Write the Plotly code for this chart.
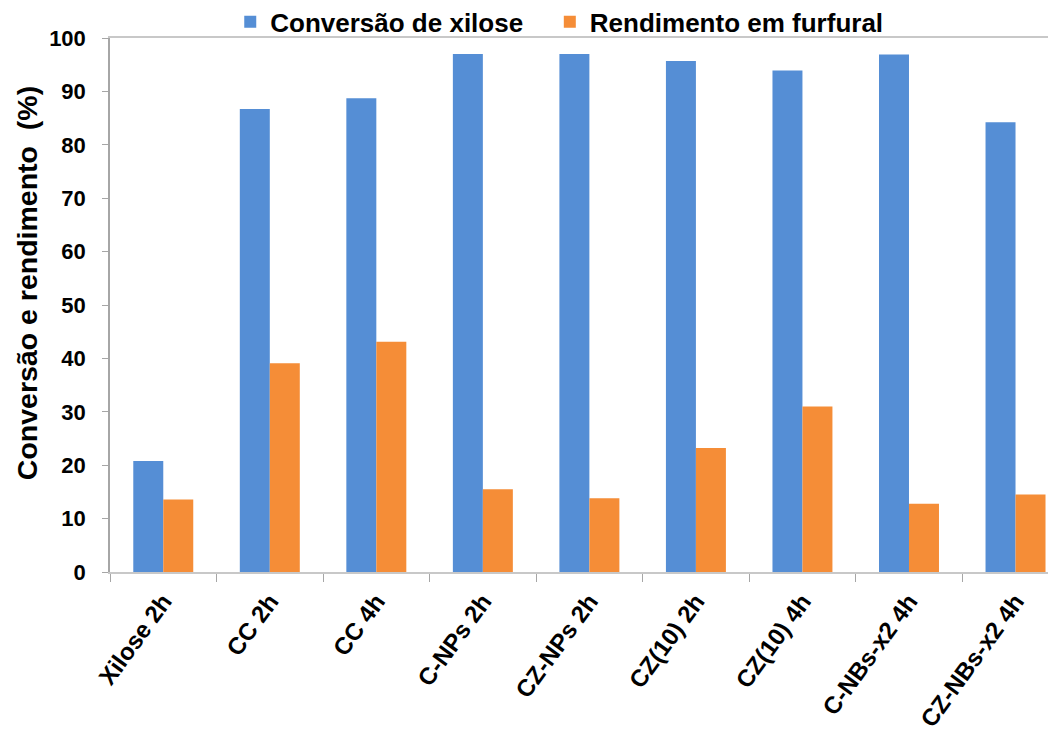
import plotly.graph_objects as go

categories = ["Xilose 2h", "CC 2h", "CC 4h", "C-NPs 2h", "CZ-NPs 2h",
              "CZ(10) 2h", "CZ(10) 4h", "C-NBs-x2 4h", "CZ-NBs-x2 4h"]
conversao = [20.8, 86.7, 88.7, 97.0, 97.0, 95.7, 93.9, 96.9, 84.2]
rendimento = [13.6, 39.1, 43.1, 15.5, 13.8, 23.2, 31.0, 12.8, 14.5]

series_names = ["Conversão de xilose", "Rendimento em furfural"]
y_ticks = [0, 10, 20, 30, 40, 50, 60, 70, 80, 90, 100]
y_title = "Conversão e rendimento  (%)"

blue = "#558ed5"
orange = "#f58d37"
font_family = "Liberation Sans, Arial, sans-serif"

fig = go.Figure()
fig.add_trace(go.Bar(x=categories, y=conversao,
                     name=series_names[0] + "\u00a0\u00a0\u00a0",
                     marker=dict(color=blue, line=dict(width=0))))
fig.add_trace(go.Bar(x=categories, y=rendimento, name=series_names[1],
                     marker=dict(color=orange, line=dict(width=0))))

fig.update_layout(
    width=1048, height=728,
    margin=dict(l=102, r=0, t=30, b=164, autoexpand=False),
    paper_bgcolor="white", plot_bgcolor="white",
    barmode="group", bargap=0.437, bargroupgap=0,
    font=dict(family=font_family, color="black"),
    legend=dict(orientation="h", xref="container", yref="container",
                x=0.526, xanchor="center", y=0.981, yanchor="middle",
                font=dict(size=26, weight="bold"),
                tracegroupgap=0, bgcolor="rgba(0,0,0,0)"),
    showlegend=True,
)

fig.update_xaxes(
    type="category",
    range=[-0.5, 8.38],
    showline=True, linecolor="#c8c8c8", linewidth=1.5, mirror=True,
    ticks="outside", tickson="boundaries", ticklen=8, tickcolor="#a6a6a6",
    tickangle=-54, ticklabelstandoff=4,
    tickfont=dict(family=font_family, size=24, weight="bold"),
    showgrid=False, automargin=False,
)
fig.update_yaxes(
    range=[0, 100],
    tickvals=y_ticks,
    showline=True, linecolor="#a6a6a6", linewidth=1.5,
    ticks="outside", ticklen=6, tickcolor="#a6a6a6", ticklabelstandoff=12,
    tickfont=dict(family=font_family, size=22, weight="bold"),
    showgrid=False, zeroline=False, automargin=False,
)

fig.add_annotation(
    text=y_title, textangle=-90, showarrow=False,
    xref="paper", yref="paper", x=-0.0877, y=0.541,
    xanchor="center", yanchor="middle",
    font=dict(family=font_family, size=28.5, weight="bold"),
)

fig.write_html("out.html")
